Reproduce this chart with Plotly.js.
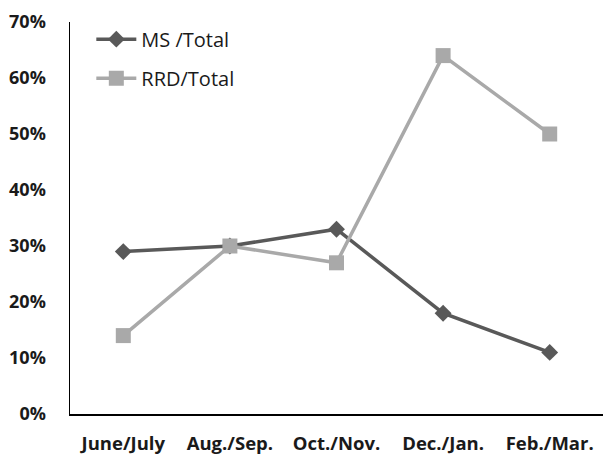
<!DOCTYPE html>
<html>
<head>
<meta charset="utf-8">
<script src="https://cdn.plot.ly/plotly-3.0.1.min.js"></script>
<style>html,body{margin:0;padding:0;background:#fff;}#chart{width:603px;height:455px;}</style>
</head>
<body>
<div id="chart"></div>
<script>
// Bimonthly periods
const periods = ["June/July", "Aug./Sep.", "Oct./Nov.", "Dec./Jan.", "Feb./Mar."];
// Share of total (fractions)
const msTotal = [0.29, 0.30, 0.33, 0.18, 0.11];
const rrdTotal = [0.14, 0.30, 0.27, 0.64, 0.50];
// Y axis ticks
const yTicks = [0, 0.1, 0.2, 0.3, 0.4, 0.5, 0.6, 0.7];
const yTickText = ["0%", "10%", "20%", "30%", "40%", "50%", "60%", "70%"];

const traces = [
  {
    x: periods, y: msTotal, name: "MS /Total", type: "scatter", mode: "lines+markers",
    legendgroup: "a",
    line: {color: "#595959", width: 3.5},
    marker: {symbol: "diamond", size: 13, color: "#595959"}
  },
  {
    x: periods, y: rrdTotal, name: "RRD/Total", type: "scatter", mode: "lines+markers",
    legendgroup: "b",
    line: {color: "#a9a9a9", width: 3.5},
    marker: {symbol: "square", size: 15, color: "#a9a9a9"}
  }
];

const xTickFont = {size: 18.5, family: "Open Sans, sans-serif", weight: "bold", color: "#1a1a1a"};
const yTickFont = {size: 18, family: "Open Sans, sans-serif", weight: "bold", color: "#1a1a1a"};

const layout = {
  width: 603, height: 455,
  margin: {l: 70, r: 0, t: 22, b: 41},
  paper_bgcolor: "#fff", plot_bgcolor: "#fff",
  font: {family: "Open Sans, Liberation Sans, sans-serif", color: "#1a1a1a"},
  showlegend: true,
  legend: {
    x: 0.04, y: 1.006, xanchor: "left", yanchor: "top",
    bgcolor: "rgba(0,0,0,0)",
    font: {size: 20, color: "#1a1a1a", family: "Open Sans, sans-serif"},
    tracegroupgap: 10,
    itemwidth: 40
  },
  xaxis: {
    type: "category", range: [-0.5, 4.5],
    showline: true, linecolor: "#000", linewidth: 1.5,
    showgrid: false, zeroline: false, ticks: "",
    tickfont: xTickFont,
    ticklabelstandoff: 12
  },
  yaxis: {
    range: [0, 0.7],
    tickvals: yTicks, ticktext: yTickText,
    showline: true, linecolor: "#000", linewidth: 1.5,
    showgrid: false, zeroline: false, ticks: "",
    tickfont: yTickFont,
    ticklabelstandoff: 19
  }
};

Plotly.newPlot("chart", traces, layout, {displayModeBar: false, staticPlot: true});
</script>
</body>
</html>
